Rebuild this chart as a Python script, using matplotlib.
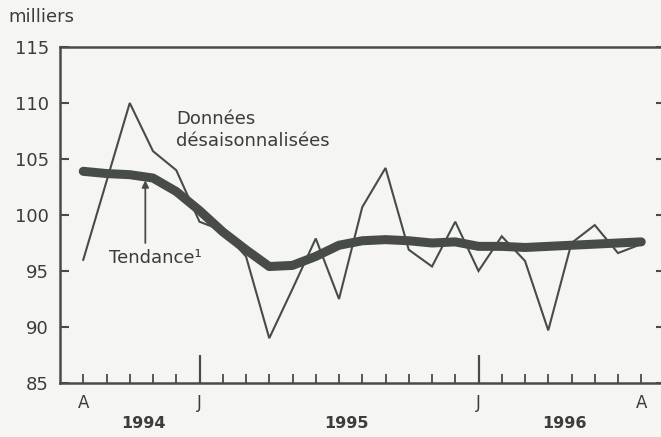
import matplotlib.pyplot as plt
import numpy as np

plt.rcParams['font.family'] = ['DejaVu Sans']

# monthly, August 1994 to August 1996 (thousands)
months = np.arange(25)
donnees = [96.0, 103.0, 110.0, 105.7, 104.0, 99.4, 98.6, 96.3, 89.0, 93.4,
           97.9, 92.5, 100.7, 104.2, 96.9, 95.4, 99.4, 95.0, 98.1, 95.9,
           89.7, 97.5, 99.1, 96.6, 97.4]
tendance = [103.9, 103.7, 103.6, 103.3, 102.1, 100.4, 98.5, 96.9, 95.4, 95.5,
            96.3, 97.3, 97.7, 97.8, 97.7, 97.5, 97.6, 97.2, 97.2, 97.1,
            97.2, 97.3, 97.4, 97.5, 97.6]
january = [5, 17]
month_ticks = [0, 5, 17, 24]
month_labels = ['A', 'J', 'J', 'A']
year_pos = [2.6, 11.3, 20.7]
year_labels = ['1994', '1995', '1996']

ink = '#484c47'
txt = '#3a3d3a'
bg = '#f5f5f3'

fig = plt.figure(figsize=(6.61, 4.37), dpi=100, facecolor=bg)
ax = fig.add_axes([60 / 661, 1 - 383 / 437, 604.5 / 661, 336 / 437])
ax.set_facecolor(bg)

ax.plot(months, donnees, color=ink, lw=1.5, solid_joinstyle='miter')
ax.plot(months, tendance, color=ink, lw=6.5, solid_capstyle='round',
        solid_joinstyle='round')

ax.set_xlim(-1, 25)
ax.set_ylim(85, 115)

for s in ax.spines.values():
    s.set_color(ink)
    s.set_linewidth(1.8)

ax.set_yticks(np.arange(85, 116, 5))
ax.tick_params(axis='y', direction='in', length=6.5, width=1.5, color=ink,
               labelsize=13, labelcolor=txt, pad=8, right=True)

# one tick per month, January ticks taller
ax.set_xticks(months)
ax.set_xticklabels([])
ax.tick_params(axis='x', direction='in', length=6.5, width=1.3, color=ink)
for m, t in zip(months, ax.xaxis.get_major_ticks()):
    if m in january:
        t.tick1line.set_markersize(20)
        t.tick1line.set_markeredgewidth(1.6)

for m, lab in zip(month_ticks, month_labels):
    ax.text(m, 83.2, lab, ha='center', va='center', fontsize=12, color=txt)
for p, lab in zip(year_pos, year_labels):
    ax.text(p, 81.4, lab, ha='center', va='center', fontsize=11.5,
            fontweight='bold', color=txt)

ax.text(4.0, 107.6, 'Données\ndésaisonnalisées', ha='left', va='center',
        fontsize=13, color=txt, linespacing=1.3)
ax.annotate('', xy=(2.67, 103.1), xytext=(2.67, 97.5),
            arrowprops=dict(arrowstyle='-|>', color=ink, lw=1.3,
                            mutation_scale=10, shrinkA=0, shrinkB=0))
ax.text(3.1, 96.2, 'Tendance¹', ha='center', va='center', fontsize=13,
        color=txt)

fig.text(8 / 661, 1 - 17 / 437, 'milliers', ha='left', va='center',
         fontsize=13, color=txt)

fig.savefig('out.png', dpi=100, facecolor=bg)
